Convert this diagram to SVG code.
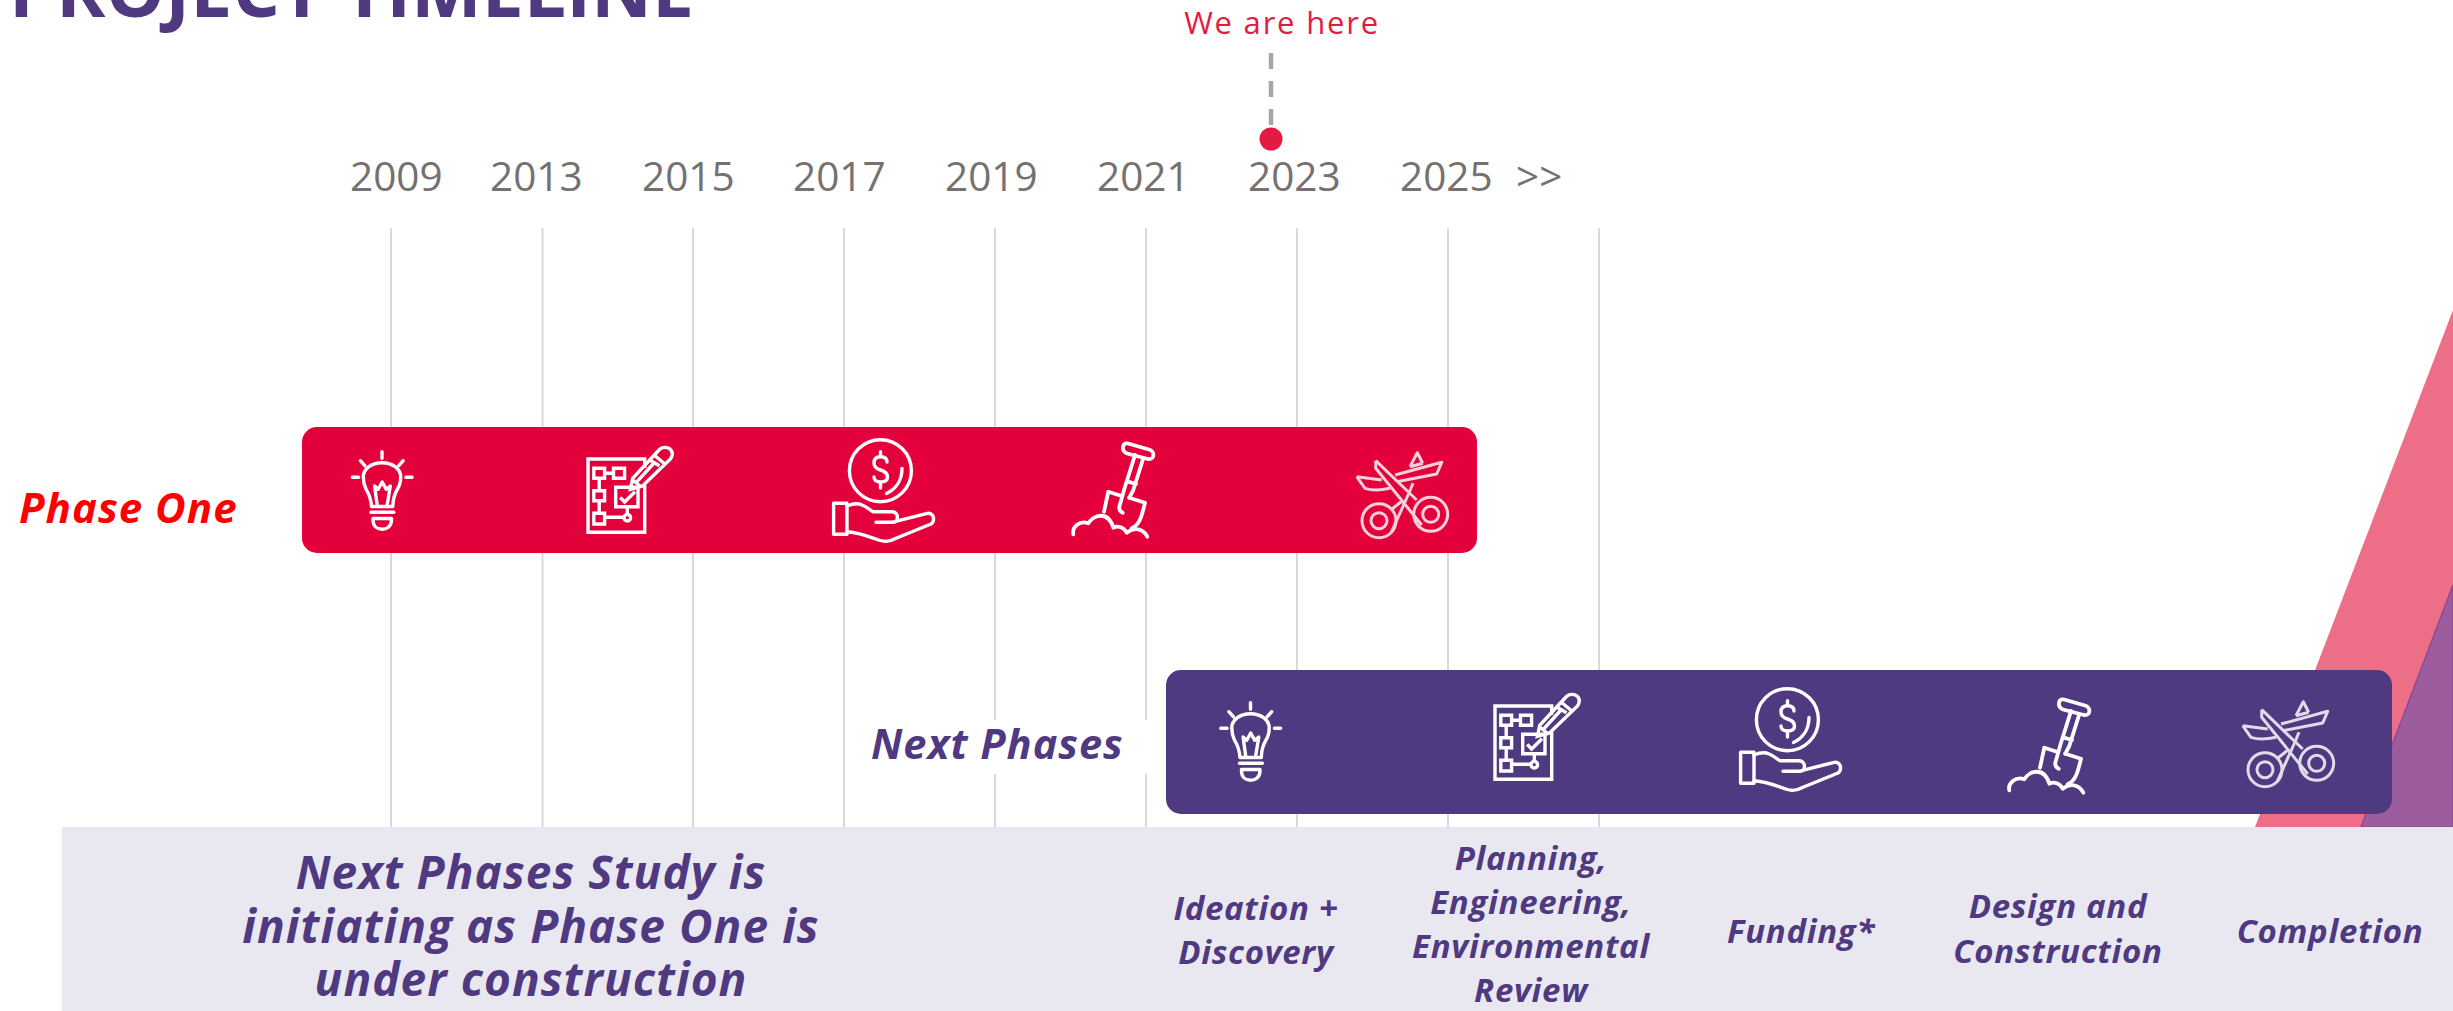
<svg xmlns="http://www.w3.org/2000/svg" width="2453" height="1011" viewBox="0 0 2453 1011">
<style>
text{font-family:"Open Sans","Noto Sans","Liberation Sans",sans-serif}
.year{font-size:40.500px;fill:#757170}
.grid{stroke:#d9d9d9;stroke-width:2;fill:none}
.bi{font-weight:700;font-style:italic;fill:#4f3980}
.lab{font-size:33px;text-anchor:middle;letter-spacing:.7px}
.big{font-size:46px;text-anchor:middle;letter-spacing:1.050px}
.ic{fill:none;stroke:#fff;stroke-width:3.400;stroke-linecap:round;stroke-linejoin:round}
.ic2{fill:none;stroke:#fff;stroke-width:3;stroke-linejoin:round;opacity:.82;filter:url(#soft)}
</style>
<defs>
<filter id="soft" x="-10%" y="-10%" width="120%" height="120%"><feGaussianBlur stdDeviation=".6"/></filter>
<g id="i-bulb" class="ic">
<path d="M382 451.700V458.300M360.400 460.700L364.800 465.700M403.200 460.700L398.800 465.700M352.300 477.300H358.600M405.900 477.300H412.100"/>
<path d="M371.500 506.500C371 498 369 494 366 489C364 485 363.300 481 363.300 477C363.300 469 371 462.700 382 462.700C393 462.700 400.700 469 400.700 477C400.700 481 400 485 397.500 489C394.500 494 393 498 392.800 506.500Z"/>
<path d="M377.300 506L374.600 486L378.200 489.300L382.200 482L386.300 489.300L390.300 486L387 506"/>
<path d="M371 512.300H393.800"/>
<path d="M373 518.500H391.500V520C391.500 526 387 529.300 382 529.300C377 529.300 373 526 373 520Z"/>
</g>
<g id="i-plan" class="ic" style="stroke-linecap:butt;stroke-linejoin:miter">
<path d="M644.700 468V459H588V532.300H644.700V485"/>
<path d="M593.800 468.300h10.800v10h-10.800zM613.500 468.300h11.100v10h-11.100zM593.800 490.700h10.800v10h-10.800zM593.800 513.300h10.800v10.700h-10.800zM615.700 487.300H638V506.700H615.700z"/>
<path d="M604.600 473.300H613.500M599.200 478.300V490.700M599.200 500.700V513.300M604.600 517.300H623.800M627.300 507.300V514"/>
<circle cx="627.300" cy="517.700" r="3.300"/>
<path d="M620.200 497.300L624.600 502L635 491.700"/>
<path d="M630.400 489.300L632.700 478.300L659 450C662 446.500 668 446.500 671 450C673 453 672.500 456 670.500 459L642.500 486ZM637 481.700L654 463M654 455L664 463.300M649.600 460L659.500 465.700M632.700 480L641.600 487.300"/>
</g>
<g id="i-coin" class="ic">
<circle cx="880.400" cy="470.700" r="31"/>
<path d="M887 462C887 458 884 456.700 880.500 456.700C876.500 456.700 874 459 874 463C874 467 877 469 880.500 470C884 471 887.500 473 887.500 477C887.500 480.500 884.500 482 880.500 482C876.500 482 874 480 874 477M880.500 451.700V456.700M880.500 482V488"/>
<path d="M902 468.500C902 480 896 489 886.500 493.500"/>
<path d="M833.600 503.300H847V534.300H833.600Z"/>
<path d="M847 506C853 503.500 858 503 862 505C866 506.500 869 509 872.900 511.700H891.600C897 511.700 899 517 896 521.500C895 522.300 893 522.300 891.600 522.300H876M891.600 522.300L927.300 513.300C931 512.500 934 516 933.500 519.500C933.500 521.500 932.500 523 931 524L896 538.300C887 543.500 881 541 873.800 538.300C865 535 857 532.500 847 531.700"/>
</g>
<g id="i-shovel" class="ic" style="stroke-width:3.800">
<path d="M1128 443.500L1149 449.500C1155 451 1155 460 1148 459L1127 453.500C1121 451 1122 442 1128 443.500Z"/>
<path d="M1135 455L1125 486.700L1119.300 506.700C1119 509 1120 511.500 1122.700 512.700M1143.300 458.300L1133.300 490L1129.300 497.700M1128 481.700L1136 484"/>
<path d="M1121.700 496L1108.300 491.700L1104 511.700M1129.300 497.700L1145 502.700C1142 515 1140 525 1131.700 528.300"/>
<path d="M1073.300 534.300C1071.700 527 1080 520 1088.300 523.300C1093 515 1108 510 1113.300 527.700C1118 525.500 1124 527 1126.700 532.700C1134 527 1143 528 1147.300 536.700"/>
</g>
<g id="i-scissors" class="ic2">
<circle cx="1379" cy="520.700" r="17"/><circle cx="1379" cy="520.700" r="8"/>
<circle cx="1430.700" cy="514.300" r="17"/><circle cx="1430.700" cy="514.300" r="8"/>
<path d="M1375.700 460.700L1416.700 500M1375.700 460.700V468.300L1421.700 525"/>
<path d="M1356.700 476.700L1381.700 480M1356.700 476.700L1365 488.300C1373 491 1382 490 1390 488.300M1395 475L1441.700 462.300L1436.700 474L1396.700 481.700"/>
<path d="M1410 466.700L1417.300 452.700L1422.700 463.300M1410 466.700L1422.700 463.300"/>
<path d="M1413 483.300L1409 493L1391 533M1402 501L1392 509"/>
</g>
</defs>

<rect width="2453" height="1011" fill="#fff"/>
<polygon id="slant-pink" points="2453,310 2453,827 2255,827" fill="#ec6f87"/>
<polygon id="slant-purple" points="2453,585 2453,827 2361,827" fill="#9d5c9e" stroke="#8a4a94" stroke-width="1.500"/>

<g id="connectors">
<g class="grid">
<path d="M391 228V827M542.500 228V827M693 228V827M844 228V827M995 228V827M1146 228V827M1297 228V827M1448 228V827M1599 228V827"/>
</g>
<path d="M1271 53V125" stroke="#a6a6a6" stroke-width="4.500" stroke-dasharray="16 12" fill="none"/>
</g>

<text id="title" x="9" y="17" font-size="75" font-weight="700" fill="#4f3980">PROJECT TIMELINE</text>

<g id="years">
<text class="year" x="350" y="191">2009</text>
<text class="year" x="490" y="191">2013</text>
<text class="year" x="642" y="191">2015</text>
<text class="year" x="793" y="191">2017</text>
<text class="year" x="945" y="191">2019</text>
<text class="year" x="1097" y="191">2021</text>
<text class="year" x="1248" y="191">2023</text>
<text class="year" x="1400" y="191">2025</text>
<text class="year" x="1516" y="191">&gt;&gt;</text>
</g>

<g id="marker-now">
<text x="1282" y="34" font-size="31" letter-spacing="1.800" text-anchor="middle" fill="#e31b42">We are here</text>
<circle cx="1271" cy="139" r="11.500" fill="#e31b42"/>
</g>

<g id="phase-one">
<rect x="302" y="427" width="1175" height="126" rx="15" fill="#e4003b"/>
<text x="19" y="523" font-size="42" font-weight="700" font-style="italic" letter-spacing="1" fill="#ff0000">Phase One</text>
<use href="#i-bulb"/><use href="#i-plan"/><use href="#i-coin"/><use href="#i-shovel"/><use href="#i-scissors"/>
</g>

<g id="next-phases">
<rect x="860" y="720" width="290" height="54" fill="#fff"/>
<rect x="1166" y="670" width="1226" height="144" rx="15" fill="#4f3980"/>
<text class="bi" x="871" y="759" font-size="41.500" letter-spacing="1">Next Phases</text>
<use href="#i-bulb" x="868.500" y="251"/><use href="#i-plan" x="907" y="247"/><use href="#i-coin" x="907" y="249"/><use href="#i-shovel" x="936" y="256"/><use href="#i-scissors" x="886" y="249"/>
</g>

<g id="panel">
<rect x="62" y="827" width="2391" height="184" fill="#e9e8f1"/>
<g class="bi big">
<text x="531" y="889">Next Phases Study is</text>
<text x="531" y="943">initiating as Phase One is</text>
<text x="531" y="996">under construction</text>
</g>
<g class="bi lab">
<text x="1256" y="920">Ideation +</text>
<text x="1256" y="964">Discovery</text>
<text x="1531" y="870">Planning,</text>
<text x="1531" y="914">Engineering,</text>
<text x="1531" y="958">Environmental</text>
<text x="1531" y="1002">Review</text>
<text x="1801" y="943">Funding*</text>
<text x="2058" y="918">Design and</text>
<text x="2058" y="963">Construction</text>
<text x="2330" y="943">Completion</text>
</g>
</g>
</svg>
